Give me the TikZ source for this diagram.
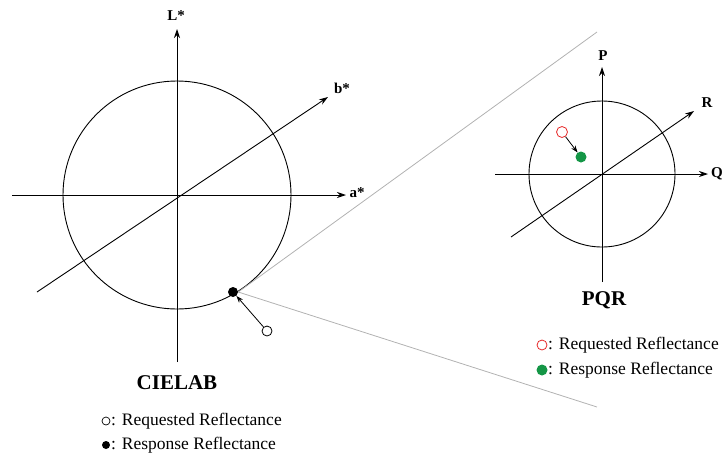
\documentclass[tikz,border=0pt]{standalone}
\usepackage{fontspec}
\setmainfont{Liberation Serif}
\usetikzlibrary{arrows.meta}
\definecolor{reqred}{RGB}{230,40,40}
\definecolor{resgreen}{RGB}{20,150,70}
\tikzset{
  axis/.style={line width=0.9pt,-{Stealth[length=9pt,width=6pt]}},
  ring/.style={line width=0.9pt},
  zoomline/.style={line width=0.8pt,draw=black!30},
  axlabel/.style={font=\fontsize{15}{15}\selectfont\bfseries},
  title/.style={font=\fontsize{21}{21}\selectfont\bfseries},
  legtext/.style={font=\fontsize{17.5}{17.5}\selectfont,anchor=west,inner sep=0pt},
  ptarrow/.style={line width=0.8pt,-{Stealth[length=7pt,width=5pt]}},
}
\begin{document}
\begin{tikzpicture}[x=1pt,y=-1pt]
\useasboundingbox (0,0) rectangle (722,456);
% ---------- CIELAB ----------
\coordinate (O) at (177,195);
\draw[ring] (O) circle[radius=114];
\coordinate (aL) at (12,195);
\coordinate (aR) at (346,195);
\coordinate (Lb) at (177,362);
\coordinate (Lt) at (177,29);
\coordinate (bL) at (37,292);
\coordinate (bR) at (328,97);
\draw[axis] (aL) -- (aR);
\draw[axis] (Lb) -- (Lt);
\draw[axis] (bL) -- (bR);
\node[axlabel] (la) at (357,193) {a*};
\node[axlabel] (lL) at (176,16) {L*};
\node[axlabel] (lb) at (342,88) {b*};
% zoom lines
\node[circle,fill=black,inner sep=0pt,minimum size=10pt] (resp) at (233,292) {};
\coordinate (zt) at (597,32);
\coordinate (zb) at (597,407);
\draw[zoomline] (resp.east) -- (zt);
\draw[zoomline] (resp.east) -- (zb);
\node[circle,draw=black,fill=white,line width=0.8pt,inner sep=0pt,minimum size=10pt] (req) at (267,331) {};
\draw[ptarrow] (req) -- (resp);
\node[title] (cielab) at (177,383) {CIELAB};
\node[circle,draw=black,line width=0.7pt,inner sep=0pt,minimum size=8pt] (s1) at (106,421) {};
\node[legtext] (t1) at (111,421) {: Requested Reflectance};
\node[circle,fill=black,inner sep=0pt,minimum size=8pt] (s2) at (106,445) {};
\node[legtext] (t2) at (111,445) {: Response Reflectance};
% ---------- PQR ----------
\coordinate (C) at (602,174);
\draw[ring] (C) circle[radius=73];
\coordinate (qL) at (495,174);
\coordinate (qR) at (708,174);
\coordinate (pb) at (602,282);
\coordinate (pt) at (602,67);
\coordinate (rL) at (511,237);
\coordinate (rR) at (694,111);
\draw[axis] (qL) -- (qR);
\draw[axis] (pb) -- (pt);
\draw[axis] (rL) -- (rR);
\node[axlabel] (lq) at (717,174) {Q};
\node[axlabel] (lp) at (603,56) {P};
\node[axlabel] (lr) at (707,103) {R};
\node[circle,draw=reqred,line width=0.8pt,inner sep=0pt,minimum size=11pt] (rreq) at (562,132) {};
\node[circle,fill=resgreen,inner sep=0pt,minimum size=11pt] (rres) at (581,157) {};
\draw[ptarrow] (rreq) -- (rres);
\node[title] (pqr) at (604,300) {PQR};
\node[circle,draw=reqred,line width=0.8pt,inner sep=0pt,minimum size=10pt] (s3) at (542,345) {};
\node[legtext] (t3) at (548,345) {: Requested Reflectance};
\node[circle,fill=resgreen,inner sep=0pt,minimum size=11pt] (s4) at (542,370) {};
\node[legtext] (t4) at (548,370) {: Response Reflectance};
\end{tikzpicture}
\end{document}
